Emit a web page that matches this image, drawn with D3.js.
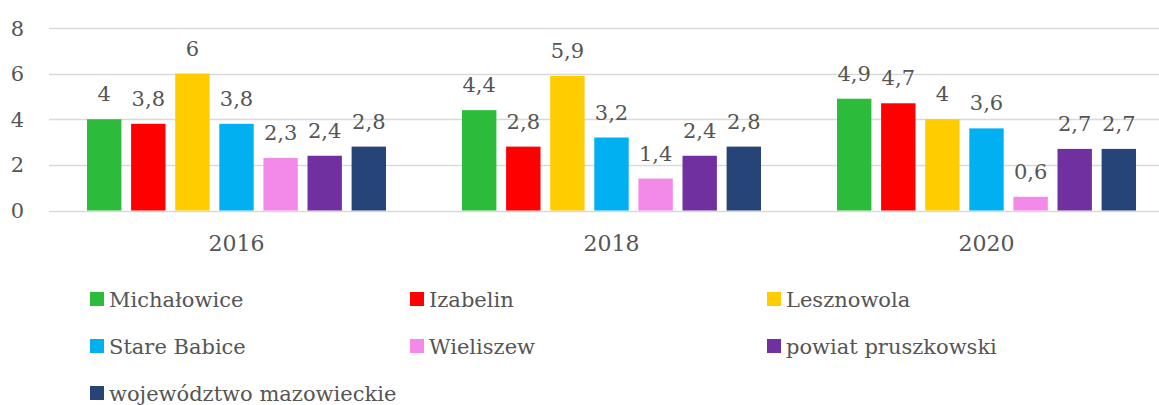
<!DOCTYPE html>
<html>
<head>
<meta charset="utf-8">
<script src="https://cdn.jsdelivr.net/npm/d3@7"></script>
<style>
  body { margin: 0; background: #fff; }
  text { font-family: "DejaVu Serif", serif; fill: #555555; }
</style>
</head>
<body>
<div id="container"></div>
<script>
/* the data */
var years = ["2016", "2018", "2020"]
var series = ["Michałowice", "Izabelin", "Lesznowola", "Stare Babice",
              "Wieliszew", "powiat pruszkowski", "województwo mazowieckie"]
var colors = ["#2dbb3c", "#ff0000", "#ffcc00", "#00b0f0",
              "#f389e8", "#7030a0", "#264478"]
var values2016 = [4, 3.8, 6, 3.8, 2.3, 2.4, 2.8]
var values2018 = [4.4, 2.8, 5.9, 3.2, 1.4, 2.4, 2.8]
var values2020 = [4.9, 4.7, 4, 3.6, 0.6, 2.7, 2.7]
var yTicks = [0, 2, 4, 6, 8]

var values = [values2016, values2018, values2020]

/* setup the dimensions */
var width = 1159, height = 405

var svg = d3.select("#container")
            .append("svg")
            .attr("width", width)
            .attr("height", height)

/* scales */
var x0 = d3.scaleBand()
           .domain(years)
           .range([49, 1174])

var x1 = d3.scaleBand()
           .domain(series)
           .range([38, 337])
           .paddingInner(0.22)

var y = d3.scaleLinear()
          .domain([0, 8])
          .range([210.5, 28])

/* gridlines */
svg.append("g")
   .selectAll("line")
   .data(yTicks)
   .enter().append("line")
     .attr("x1", 49)
     .attr("x2", width)
     .attr("y1", function(d) { return Math.round(y(d)) + 0.5 })
     .attr("y2", function(d) { return Math.round(y(d)) + 0.5 })
     .attr("stroke", "#d9d9d9")
     .attr("stroke-width", 1.3)

/* y tick labels */
svg.append("g")
   .selectAll("text")
   .data(yTicks)
   .enter().append("text")
     .attr("x", 24)
     .attr("y", function(d) { return y(d) })
     .attr("dy", "0.36em")
     .attr("text-anchor", "end")
     .style("font-size", "21px")
     .text(function(d) { return d })

/* bars, grouped by year */
var groups = svg.selectAll(".year")
  .data(years)
  .enter().append("g")
    .attr("class", "year")
    .attr("transform", function(d) { return "translate(" + x0(d) + ",0)" })

groups.selectAll("rect")
  .data(function(d, i) {
    return values[i].map(function(v, j) { return { name: series[j], value: v, color: colors[j] } })
  })
  .enter().append("rect")
    .attr("x", function(d) { return x1(d.name) })
    .attr("y", function(d) { return y(d.value) })
    .attr("width", x1.bandwidth())
    .attr("height", function(d) { return y(0) - y(d.value) })
    .attr("fill", function(d) { return d.color })

groups.selectAll(".label")
  .data(function(d, i) {
    return values[i].map(function(v, j) { return { name: series[j], value: v } })
  })
  .enter().append("text")
    .attr("class", "label")
    .attr("x", function(d) { return x1(d.name) + x1.bandwidth() / 2 })
    .attr("y", function(d) { return y(d.value) - 18 })
    .attr("text-anchor", "middle")
    .style("font-size", "21px")
    .text(function(d) { return String(d.value).replace(".", ",") })

/* category labels */
svg.append("g")
   .selectAll("text")
   .data(years)
   .enter().append("text")
     .attr("x", function(d) { return x0(d) + x0.bandwidth() / 2 })
     .attr("y", 251)
     .attr("text-anchor", "middle")
     .style("font-size", "22px")
     .text(function(d) { return d })

/* legend */
var legendX = [90, 410, 767]
var legend = svg.append("g")
  .selectAll("g")
  .data(series)
  .enter().append("g")
    .attr("transform", function(d, i) {
      return "translate(" + legendX[i % 3] + "," + (292 + Math.floor(i / 3) * 47) + ")"
    })

legend.append("rect")
  .attr("width", 14)
  .attr("height", 14)
  .attr("fill", function(d, i) { return colors[i] })

legend.append("text")
  .attr("x", 19)
  .attr("y", 14.5)
  .style("font-size", "21px")
  .text(function(d) { return d })
</script>
</body>
</html>
